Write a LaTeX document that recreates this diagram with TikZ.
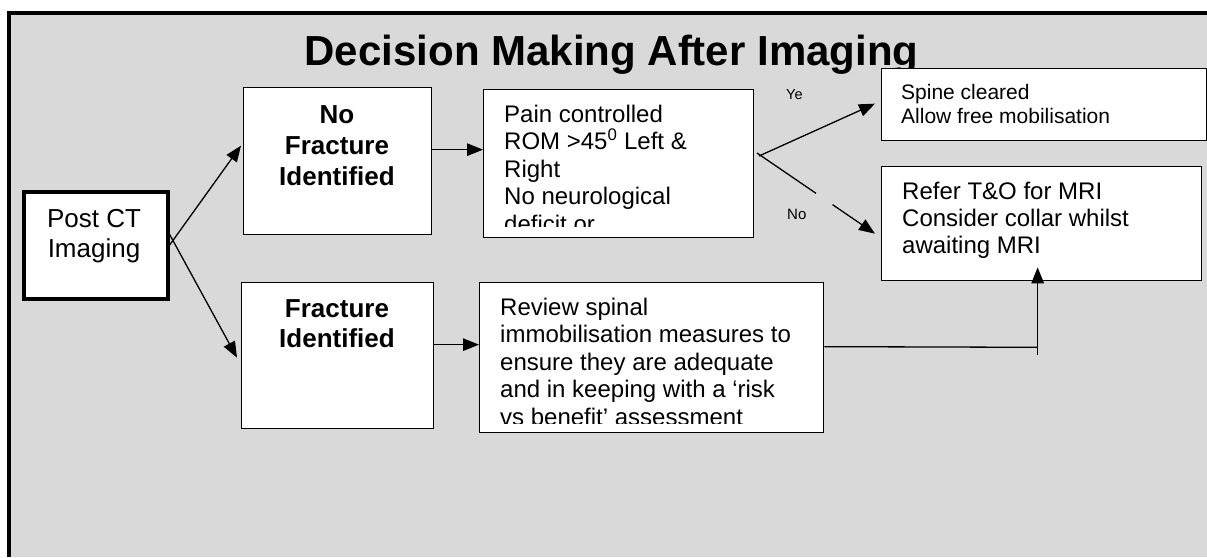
\documentclass[tikz,border=0pt]{standalone}
\usepackage{fontspec}
\setmainfont{Liberation Sans}
\usetikzlibrary{arrows.meta,calc}
\definecolor{bggray}{HTML}{D9D9D9}
\newcommand\myfs[2]{\fontsize{#1}{#2}\selectfont}
\newcommand\leftlines[1]{\vtop{\halign{##\hfil\cr#1\crcr}}}
\newcommand\centerlines[1]{\vtop{\halign{\hfil##\hfil\cr#1\crcr}}}
\tikzset{
  box/.style={draw=black, fill=white, line width=1.3pt, inner sep=0pt, anchor=north west},
  txt/.style={inner sep=0pt, anchor=base west},
  ctxt/.style={inner sep=0pt, anchor=base},
  arr/.style={line width=1.3pt, -{Triangle[length=16pt,width=12.5pt]}},
  conn/.style={line width=1.3pt},
}
\begin{document}
\begin{tikzpicture}[x=1pt,y=-1pt]
\useasboundingbox (0,0) rectangle (1207,557);
\fill[white] (0,0) rectangle (1207,557);
% outer frame: gray field with thick top and left edges
\fill[bggray] (9,13) rectangle (1207,557);
\draw[line width=4.5pt] (9,557) -- (9,13) -- (1207,13);
% title
\node[ctxt, font=\myfs{42}{48}\bfseries] (title) at (611.5,65) {Decision Making After Imaging};
% boxes
\node[box, line width=3.5pt, minimum width=144pt, minimum height=107pt] (post) at (22,190) {};
\node[box, minimum width=188pt, minimum height=147pt] (nf) at (243,87) {};
\node[box, minimum width=192pt, minimum height=146pt] (fr) at (241,282) {};
\node[box, minimum width=270pt, minimum height=148pt] (pain) at (483,89) {};
\node[box, minimum width=344pt, minimum height=150pt] (rev) at (479,282) {};
\node[box, minimum width=325pt, minimum height=72pt] (spine) at (881,68) {};
\node[box, minimum width=320pt, minimum height=114pt] (refer) at (881,166) {};
% texts
\node[ctxt, font=\myfs{26}{30}] (posttxt) at (94,227) {\centerlines{Post CT\cr Imaging}};
\node[ctxt, font=\myfs{26}{31}\bfseries] (nftxt) at (337,123) {\centerlines{No\cr Fracture\cr Identified}};
\node[ctxt, font=\myfs{26}{30}\bfseries] (frtxt) at (337,317) {\centerlines{Fracture\cr Identified}};
\begin{scope}
\clip (483,89) rectangle (753,226);
\node[txt, font=\myfs{24}{27.5}] (paintxt) at (504,122) {\leftlines{Pain controlled\cr ROM >45\textsuperscript{0} Left \&\cr Right\cr No neurological\cr deficit or}};
\end{scope}
\begin{scope}
\clip (479,282) rectangle (823,423);
\node[txt, font=\myfs{24}{27.6}] (revtxt) at (500,315) {\leftlines{Review spinal\cr immobilisation measures to\cr ensure they are adequate\cr and in keeping with a ‘risk\cr vs benefit’ assessment}};
\end{scope}
\node[txt, font=\myfs{21}{24}] (spinetxt) at (901,99) {\leftlines{Spine cleared\cr Allow free mobilisation}};
\node[txt, font=\myfs{24}{27}] (refertxt) at (902,199) {\leftlines{Refer T\&O for MRI\cr Consider collar whilst\cr awaiting MRI}};
\node[txt, font=\myfs{14.5}{17}] (yes) at (786,99) {Ye};
\node[txt, font=\myfs{15}{17}] (no) at (787,219) {No};
% connectors
\draw[arr] (post.east) -- ($(nf.west)+(-2,-15.5)$);
\draw[arr] ($(post.east)+(0,-11)$) -- ($(fr.west)+(-4,2)$);
\draw[arr] ($(nf.east)+(0,-11.5)$) -- ($(pain.west)+(0,-14)$);
\draw[arr] ($(fr.east)+(0,-11)$) -- ($(rev.west)+(0,-13)$);
\coordinate (dec) at (759,156);
\coordinate (decn) at (757,153);
\coordinate (notip) at ($(refer.west)+(-6,10)$);
\draw[arr] (dec) -- ($(spine.west)+(-6,-1)$);
\draw[conn] (decn) -- ($(decn)!0.5!(notip)$);
\draw[arr] ($(decn)!0.64!(notip)$) -- (notip);
\coordinate (jn) at ($(refer.south)+(-4,66)$);
\coordinate (jb) at ($(refer.south)+(-4,74)$);
\draw[conn] ($(rev.east)+(0,-11)$) -- (jn);
\draw[arr] (jb) -- ($(refer.south)+(-4,-14)$);
\end{tikzpicture}
\end{document}
